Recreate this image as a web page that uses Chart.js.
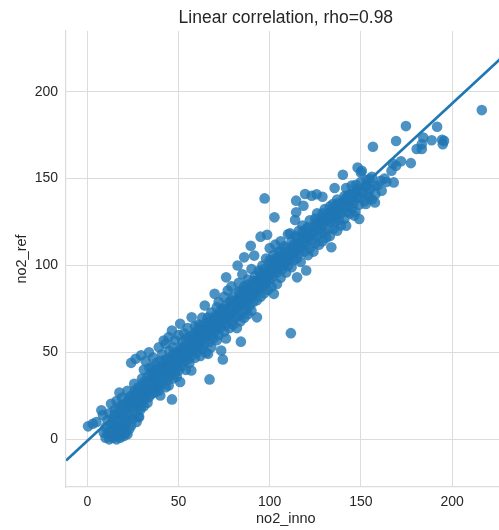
<!DOCTYPE html>
<html>
<head>
<meta charset="utf-8">
<script src="https://cdn.jsdelivr.net/npm/chart.js@4"></script>
<style>
  html, body { margin: 0; padding: 0; background: #fff; overflow: hidden; }
  #wrap { width: 511px; height: 530px; }
</style>
</head>
<body>
<div id="wrap"><canvas id="corrChart" width="511" height="530"></canvas></div>
<script>
// no2_inno (x) vs no2_ref (y), grouped by x range
const pointsLow = [
  [0.4, 7.5], [3, 9], [5, 10], [7.7, 16.7], [8.5, 14], [9, 4], [10, 1], [10, 7], [11, 3], [11, 11],
  [12, 0], [12, 5], [12, 15], [13, 2], [13, 9], [13, 20.5], [14, 1], [14, 6], [14, 12], [15, 3],
  [15, 8], [15, 17], [16, 0], [16, 5], [16, 11], [16, 22], [17, 2], [17, 7], [17, 14], [17.6, 27],
  [18, 1], [18, 4], [18, 10], [18, 19], [19, 3], [19, 8], [19, 15], [19, 24], [20, 2], [20, 6],
  [20, 12], [20, 20], [21, 4], [21, 9], [21, 17], [22, 3], [22, 11], [22, 28], [22, 22], [23, 6],
  [23, 14], [23, 19], [24, 8], [24, 25], [24, 44], [25, 12], [25, 18], [25.7, 32], [26, 15], [26, 22],
  [26, 28], [26.5, 46.4], [27, 10], [27, 19], [27, 26], [28, 13], [28, 21], [28, 30], [28.4, 12.8], [29, 17],
  [29, 24], [29.5, 48.4], [29.3, 18.6], [30, 22], [30, 28], [30, 35]
];
const pointsMidLow = [
  [31, 19], [31, 27], [31, 33], [31, 40], [32, 24], [32, 30], [32, 45], [33, 21], [33, 28], [33, 36],
  [33.8, 24.3], [33.8, 50.1], [34, 31], [34, 41], [35, 26], [35, 33], [35, 38], [35.6, 41.5], [36, 29], [36, 35],
  [36, 47], [37, 27], [37, 32], [37, 40], [38, 30], [38, 36], [38, 44], [39, 28], [39, 34], [39.2, 53],
  [39, 39], [40, 25.3], [40, 31], [40, 37], [40, 45], [41, 33], [41, 40], [41, 49], [41.9, 56.9], [42, 35],
  [42, 42], [42.8, 55], [43, 30], [43, 38], [43, 46], [44, 34], [44, 41], [44.6, 31], [44.6, 58.8], [45, 37],
  [45, 44], [45, 51], [46, 39], [46.4, 23], [46.4, 62.6], [46, 47], [47, 35], [47, 42], [47, 53], [48, 38],
  [48, 45], [48, 57], [49, 41], [49, 48], [49, 36], [50, 39.6], [50, 44], [50, 51], [50, 60], [50.9, 33],
  [50.9, 66.5], [51, 47], [52, 42], [52, 50], [52, 56], [53, 45], [53, 53], [53, 61], [54, 40], [54, 48],
  [54, 58], [55, 46], [55, 52], [55, 64], [56, 44], [56, 50], [56, 57], [57, 39.6], [57, 48], [57, 55],
  [57.2, 70.2], [58, 51], [58, 60], [59, 47], [59, 54], [59, 65], [60, 50], [60, 57], [60, 62]
];
const pointsMid = [
  [61, 53], [61, 59], [61, 66], [62, 48], [62, 56], [62, 63], [63, 52], [63, 60], [63, 70], [64, 55],
  [64, 62], [64.4, 77], [65, 50], [65, 58], [65, 67], [66.2, 49.2], [67, 34.5], [66, 61], [66, 70], [67, 56],
  [67, 64], [68, 53], [68, 60], [68, 73], [69, 58], [69, 65], [69.8, 83.7], [70, 62], [70, 69], [71, 57],
  [71, 66], [71, 76], [72, 60], [72, 68], [72, 79], [73, 64], [73, 71], [73.4, 51.1], [74.3, 46], [74, 67],
  [74, 75], [75, 62], [75, 70], [75, 82], [76, 58], [76, 66], [76, 74], [76.1, 93.2], [77, 85.6], [77, 70],
  [78, 64], [78, 72], [78, 79], [79, 68], [79, 76], [79, 88], [80, 66], [80, 73], [80, 82], [81, 70],
  [81, 78], [82, 64], [82, 75], [82.4, 100], [83, 71], [83, 80], [83, 90], [84, 68], [84.2, 56.2], [84, 77],
  [84, 85], [85, 73], [85, 81], [85, 95], [86, 70], [86, 78], [86, 104.7], [86, 88], [87, 75], [87, 83],
  [88, 72], [88, 80], [88, 92], [89, 77], [89, 86], [89.6, 111.4], [90, 74], [90, 82], [90, 98]
];
const pointsMidHigh = [
  [91, 79], [91, 88], [91.5, 105.7], [92, 84], [92, 94], [93, 70.2], [93, 80], [93, 90], [94, 86], [94, 97],
  [95, 82], [95, 91], [95, 116.6], [96, 88], [96, 100], [97, 84], [97, 94], [97.2, 138.6], [98, 90], [98, 104],
  [98.6, 117.7], [99, 86], [99, 96], [100, 92], [100, 101], [100, 110], [101, 88], [101, 98], [102, 94], [102, 106],
  [102.3, 83.7], [102.6, 127.7], [103, 100], [103, 112], [104, 89.4], [104, 96], [104, 104], [105, 99], [105, 108], [106, 93],
  [106, 102], [106, 114], [107, 98], [107, 106], [108, 101], [108, 111], [109, 96], [109, 105], [110, 100], [110, 108],
  [110, 118], [111, 104], [111.2, 118.5], [111.6, 61.1], [112, 99], [112, 107], [113, 103], [113, 112], [114, 108], [114, 117],
  [114.5, 130.6], [114.5, 137.3], [113.9, 126.2], [115, 93.2], [115, 104], [115, 112], [116, 107], [116, 120], [117, 102], [117, 110],
  [118, 114], [118.5, 134.4], [118, 123], [119, 108], [119, 117], [119.4, 141.1], [120, 97.1], [120, 112], [120, 121], [121, 106],
  [121, 116], [122, 110], [122, 126], [123, 115], [123, 140.1], [124, 119], [124, 108], [125, 113], [125, 124], [125.7, 141]
];
const pointsHigh = [
  [126, 117], [126, 130], [127, 112], [127, 121], [128, 118], [128, 127], [128.9, 139.6], [129, 114], [129, 123], [130, 119],
  [130.2, 132.5], [131, 116], [131, 126], [132, 121], [132, 130], [133, 117], [133, 125], [133.8, 110.5], [134, 128], [134.7, 135.4],
  [135, 121], [135, 131], [135.6, 144.6], [136, 125], [136, 134], [137, 120], [137, 129], [138, 126], [138, 136], [139, 130],
  [139, 123], [140, 133], [140.1, 152.2], [141, 127], [141, 137], [141.9, 122.9], [141.9, 144.6], [142, 131], [143, 134], [143, 140],
  [144, 130], [144, 137], [145, 133], [145, 141], [146, 136], [146.4, 128.7], [147, 131], [147.3, 146.5], [148, 139], [148.2, 156.4],
  [149, 135], [149.1, 126.8], [149.1, 139.2], [150, 153.5], [150, 143], [150.5, 154.5], [151.2, 142], [152, 137], [152.7, 135.4], [152.7, 145.9],
  [153.1, 149.2], [154, 141], [154.5, 139.2], [154.8, 149.7], [155, 144], [156, 138], [156.6, 168.3], [157.2, 145.9], [157.7, 136.3], [158, 141],
  [159, 146], [160.8, 148.8], [161.4, 143], [163, 150], [164, 148], [166.8, 154.5], [167.5, 158.7], [168, 147.8], [169.3, 157.4], [169.3, 171.6],
  [172, 160], [174.7, 180.2], [177.4, 158.9], [180.6, 167], [183.4, 167], [183.4, 169.8], [184.2, 173.6], [188.8, 172.1], [191.8, 179.8], [194.5, 172.3],
  [195.6, 171.7], [194.9, 169.8], [216.3, 189.4]
];
// points along the centre of the band (the solid part of the cloud)
const pointsCore = [
  [22, 20], [24, 22], [26, 24], [27, 27], [29, 27], [30, 31], [32, 30], [33, 33], [34, 34], [36, 33],
  [37, 37], [38, 35], [39, 39], [40, 38], [41, 41], [42, 39], [43, 43], [44, 42], [45, 41], [46, 45],
  [47, 46], [48, 47], [49, 45], [50, 49], [51, 50], [52, 48], [53, 52], [54, 51], [55, 54], [56, 53],
  [57, 52], [58, 56], [59, 58], [60, 55], [61, 62], [62, 60], [63, 58], [64, 63], [65, 61], [66, 65],
  [67, 63], [68, 66], [69, 68], [70, 66], [71, 70], [72, 71], [73, 69], [74, 72], [75, 74], [76, 71],
  [77, 75], [78, 76], [79, 74], [80, 78], [81, 76], [82, 80], [83, 81], [84, 79], [85, 84], [86, 82],
  [87, 86], [88, 84], [89, 88], [90, 87], [91, 85], [92, 89], [93, 91], [94, 92], [95, 89], [96, 94],
  [97, 92], [98, 96], [99, 94], [100, 97], [101, 95], [102, 100], [103, 98], [104, 101], [105, 103], [106, 100],
  [107, 104], [108, 105], [109, 103], [110, 106], [112, 110], [114, 111], [116, 113], [118, 117], [120, 116], [122, 119],
  [124, 121], [126, 123], [128, 124], [130, 127], [132, 126], [134, 131], [136, 130], [138, 133], [140, 136], [142, 139],
  [144, 141], [146, 140], [148, 144]
];
const pointsCoreWide = [
  [15, 14], [17, 16], [19, 18], [21, 14], [23, 24], [25, 21], [27, 23], [28, 26], [30, 25], [31, 30],
  [33, 31], [35, 30], [36, 38], [38, 40], [40, 42], [41, 36], [43, 40], [44, 46], [46, 42], [47, 49],
  [49, 50], [50, 46], [52, 53], [53, 48], [55, 50], [56, 59], [58, 53], [59, 61], [61, 57], [62, 65],
  [64, 59], [65, 64], [67, 68], [68, 62], [70, 71], [71, 64], [73, 74], [74, 69], [76, 77], [77, 72],
  [79, 80], [80, 75], [82, 77], [83, 85], [85, 79], [86, 86], [88, 89], [89, 82], [91, 91], [92, 86],
  [94, 88], [95, 96], [97, 98], [98, 92], [100, 103], [101, 97], [103, 104], [104, 98], [106, 108], [107, 101],
  [109, 110], [110, 103], [112, 114], [113, 107], [115, 116], [116, 110], [118, 119], [119, 113], [121, 122], [123, 118],
  [125, 127], [127, 125], [129, 130], [131, 128], [133, 134], [135, 127], [137, 138], [139, 135], [141, 140], [143, 137],
  [145, 146], [147, 142], [150, 148], [153, 146], [156, 151]
];
// fitted regression line, end points
const fitX = [-11.7, 229.4];
const fitY = [-12.2, 221.7];
const xTicks = [0, 50, 100, 150, 200];
const yTicks = [0, 50, 100, 150, 200];

const allPoints = [].concat(pointsLow, pointsMidLow, pointsMid, pointsMidHigh, pointsHigh, pointsCore, pointsCoreWide)
  .map(function (p) { return { x: p[0], y: p[1] }; });
const fitLine = fitX.map(function (x, i) { return { x: x, y: fitY[i] }; });

const textColor = "#262626";
const gridColor = "#dcdcdc";
const font = "'Liberation Sans', Arial, sans-serif";

new Chart(document.getElementById("corrChart").getContext("2d"), {
  type: "scatter",
  data: {
    datasets: [
      {
        label: "fit",
        type: "line",
        data: fitLine,
        borderColor: "#1f77b4",
        borderWidth: 2.8,
        pointRadius: 0,
        fill: false,
        order: 0,
      },
      {
        label: "no2",
        data: allPoints,
        backgroundColor: "rgba(31,119,180,0.8)",
        borderWidth: 0,
        pointRadius: 5.3,
        pointHoverRadius: 5.3,
        order: 1,
      },
    ],
  },
  options: {
    responsive: false,
    animation: false,
    layout: { padding: 0 },
    plugins: {
      legend: { display: false },
      tooltip: { enabled: false },
      title: {
        display: true,
        text: "Linear correlation, rho=0.98",
        fullSize: false,
        color: textColor,
        font: { family: font, size: 17.5, weight: "normal" },
        padding: { top: 8, bottom: 2 },
      },
    },
    scales: {
      x: {
        type: "linear",
        min: -11.7,
        max: 229.4,
        afterBuildTicks: function (s) { s.ticks = xTicks.map(function (v) { return { value: v }; }); },
        afterFit: function (s) { s.height = 43; },
        grid: { color: gridColor, drawTicks: false },
        border: { color: gridColor, width: 1.2 },
        ticks: { color: textColor, font: { family: font, size: 14 }, padding: 7 },
        title: {
          display: true,
          text: "no2_inno",
          color: textColor,
          font: { family: font, size: 14.5 },
          padding: { top: 0, bottom: 2 },
        },
      },
      y: {
        type: "linear",
        min: -27.4,
        max: 234.9,
        afterBuildTicks: function (s) { s.ticks = yTicks.map(function (v) { return { value: v }; }); },
        afterFit: function (s) { s.width = 66; },
        grid: { color: gridColor, drawTicks: false },
        border: { color: gridColor, width: 1.2 },
        ticks: { color: textColor, font: { family: font, size: 14 }, padding: 8 },
        title: {
          display: true,
          text: "no2_ref",
          color: textColor,
          font: { family: font, size: 14.5 },
          padding: { top: 13, bottom: 0 },
        },
      },
    },
  },
});
</script>
</body>
</html>
